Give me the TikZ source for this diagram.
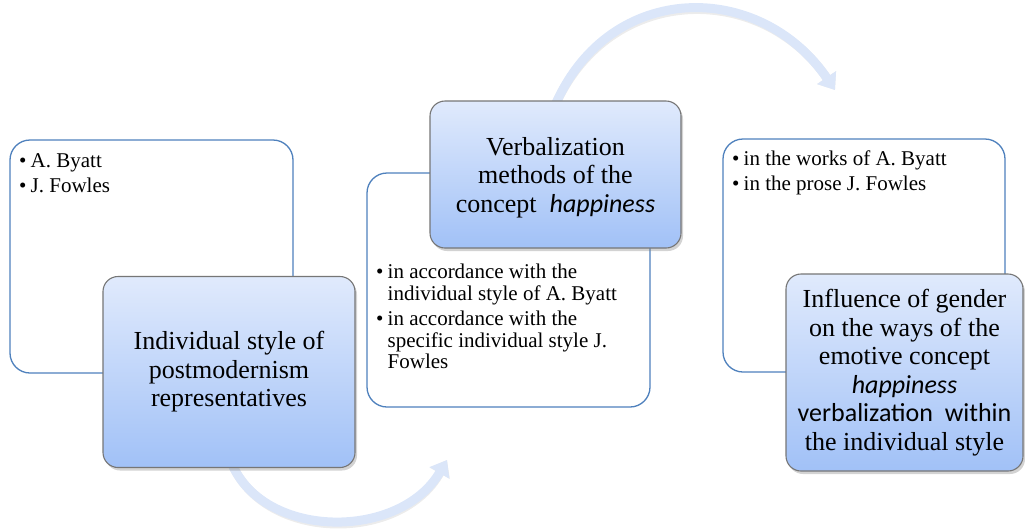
\documentclass[tikz,border=0pt]{standalone}
\usepackage{fontspec}
\setmainfont{Liberation Serif}
\newfontfamily\timesfont{Liberation Serif}
\newfontfamily\sansword{Carlito}
\usetikzlibrary{arrows.meta,shadows,backgrounds}

\definecolor{frameblue}{RGB}{79,129,189}
\definecolor{titletop}{RGB}{224,234,252}
\definecolor{titlebot}{RGB}{161,193,247}
\definecolor{titleedge}{RGB}{118,118,118}
\definecolor{flowblue}{RGB}{219,230,249}

\newcommand{\bul}{\makebox[11.5pt][l]{\textbullet}}
\newcommand{\ind}{\hspace*{11.5pt}}

\begin{document}
\begin{tikzpicture}[x=1pt,y=-1pt,
  infobox/.style={draw=frameblue,line width=1.3pt,rounded corners=20pt,fill=white,inner sep=0pt},
  titlebox/.style={draw=titleedge,line width=1.1pt,rounded corners=15pt,inner sep=0pt,
    top color=titletop,bottom color=titlebot,align=center,
    font=\timesfont\fontsize{26}{28.5}\selectfont,
    drop shadow={shadow xshift=2pt,shadow yshift=-3pt,opacity=0.35}},
  listtext/.style={align=left,inner sep=0pt,anchor=north west,
    font=\timesfont\fontsize{21}{21.5}\selectfont},
  flow/.style={draw=flowblue,line width=9pt,
    -{Triangle[width=22pt,length=15pt]}},
  flowshade/.style={draw=black!30,opacity=0.25,line width=9pt,
    -{Triangle[width=22pt,length=15pt]}}
]
\useasboundingbox (0,0) rectangle (1025,528);

% first group
\node[infobox,minimum width=283pt,minimum height=233pt] (whiteA) at (151.5,256.5) {};
\node[listtext] (listA) at (19,153) {\bul A. Byatt\\[3.5pt]\bul J. Fowles};
\node[titlebox,minimum width=252pt,minimum height=191pt] (titleA) at (229,372)
  {Individual style of\\ postmodernism\\ representatives};

% second group
\node[infobox,minimum width=283pt,minimum height=234pt] (whiteB) at (508.5,290) {};
\node[titlebox,minimum width=251pt,minimum height=147pt,yshift=0pt] (titleB) at (555.5,174.5)
  {\rule{0pt}{24pt}Verbalization\\ methods of the\\ concept\ \ {\sansword\itshape happiness}};
\node[listtext] (listB) at (376,264)
  {\bul in accordance with the\\ \ind individual style of A. Byatt\\[4pt]
   \bul in accordance with the\\ \ind specific individual style J.\\ \ind Fowles};

% third group
\node[infobox,minimum width=282pt,minimum height=233pt] (whiteC) at (864,255.5) {};
\node[listtext] (listC) at (732,151) {\bul in the works of A. Byatt\\[3.5pt]\bul in the prose J. Fowles};
\node[titlebox,minimum width=237pt,minimum height=197pt] (titleC) at (904.5,372.5)
  {Influence of gender\\ on the ways of the\\ emotive concept\\
   {\sansword\itshape happiness}\\ {\sansword verbalization\ \ within}\\ the individual style};

% curved flow arrows between the groups
\coordinate (tipB) at (447,460);
\coordinate (tipC) at (835,90);
\begin{pgfonlayer}{background}
  \begin{scope}[shift={(1.5,2.5)}]
    \draw[flowshade] ([xshift=3pt,yshift=4pt]titleA.south) .. controls (265,540) and (400,540) .. (tipB);
    \draw[flowshade] ([yshift=-4pt]titleB.north) .. controls (610,-20) and (760,-20) .. (tipC);
  \end{scope}
  \draw[flow] ([xshift=3pt,yshift=4pt]titleA.south) .. controls (265,540) and (400,540) .. (tipB);
  \draw[flow] ([yshift=-4pt]titleB.north) .. controls (610,-20) and (760,-20) .. (tipC);
\end{pgfonlayer}
\end{tikzpicture}
\end{document}
